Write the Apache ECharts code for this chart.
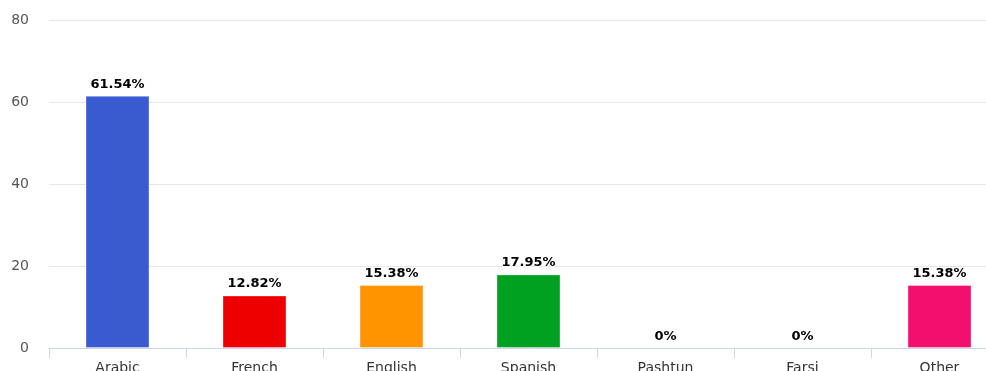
<!DOCTYPE html>
<html>
<head>
<meta charset="utf-8">
<script src="https://cdn.jsdelivr.net/npm/echarts@6/dist/echarts.min.js"></script>
<style>
  html, body { margin: 0; padding: 0; background: #fff; overflow: hidden; width: 986px; height: 371px; }
  #chart { width: 1008px; height: 380px; }
</style>
</head>
<body>
<div id="chart"></div>
<script>
// Languages and their share of responses (percent)
var categories = ['Arabic', 'French', 'English', 'Spanish', 'Pashtun', 'Farsi', 'Other'];
var shares = [61.54, 12.82, 15.38, 17.95, 0, 0, 15.38];
var barColors = ['#3a5bd0', '#ee0000', '#ff9400', '#00a021', '#7798bf', '#aaeeee', '#f20f6e'];
var yTicks = [0, 20, 40, 60, 80];

var chart = echarts.init(document.getElementById('chart'), null, { renderer: 'canvas' });

chart.setOption({
  animation: false,
  grid: { left: 49, top: 20, right: 0, height: 328, containLabel: false },
  xAxis: {
    type: 'category',
    data: categories,
    axisLine: { lineStyle: { color: '#ccd6eb', width: 1 } },
    axisTick: { show: true, length: 10, lineStyle: { color: '#ccd6eb' } },
    axisLabel: {
      color: '#333333',
      fontFamily: 'DejaVu Sans',
      fontSize: 14,
      margin: 13
    }
  },
  yAxis: {
    type: 'value',
    min: yTicks[0],
    max: yTicks[yTicks.length - 1],
    interval: 20,
    axisLine: { show: false },
    axisTick: { show: false },
    splitLine: { lineStyle: { color: '#e6e6e6', width: 1 } },
    axisLabel: {
      color: '#555555',
      fontFamily: 'DejaVu Sans',
      fontSize: 14,
      margin: 20
    }
  },
  series: [{
    type: 'bar',
    data: shares.map(function (v, i) {
      return {
        value: v,
        itemStyle: { color: barColors[i], borderWidth: v === 0 ? 0 : 1 }
      };
    }),
    barWidth: 64,
    itemStyle: { borderColor: 'rgba(255,255,255,0.35)' },
    label: {
      show: true,
      position: 'top',
      distance: 5,
      color: '#000000',
      fontFamily: 'DejaVu Sans',
      fontWeight: 'bold',
      fontSize: 13,
      textBorderColor: '#ffffff',
      textBorderWidth: 2,
      formatter: function (p) { return p.value + '%'; }
    }
  }]
});
</script>
</body>
</html>
